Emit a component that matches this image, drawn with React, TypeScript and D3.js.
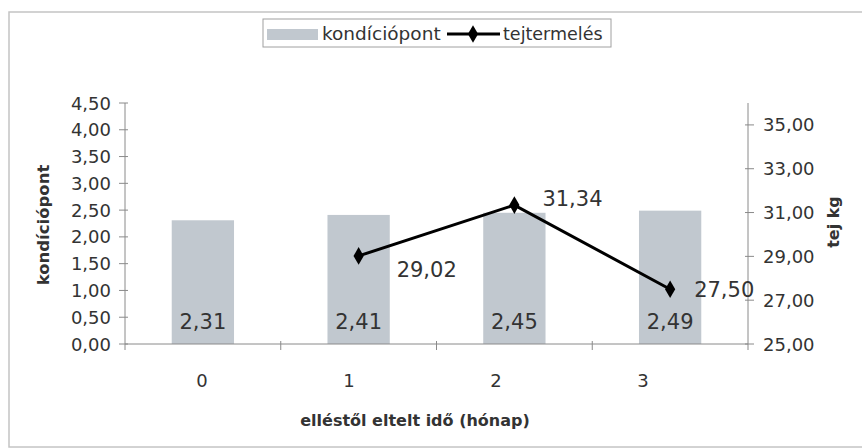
import * as d3 from "d3";

const categories = ["0", "1", "2", "3"];
const condition = [2.31, 2.41, 2.45, 2.49];
const milk: (number | null)[] = [null, 29.02, 31.34, 27.5];
const leftTicks = [0, 0.5, 1, 1.5, 2, 2.5, 3, 3.5, 4, 4.5];
const rightTicks = [25, 27, 29, 31, 33, 35];

// label nudges for the line values (as placed in the original)
const lineLabelDx = [0, 38, 28, 24];
const lineLabelDy = [0, 21, 1, 8];

const W = 862;
const H = 448;
const FONT = "'DejaVu Sans', sans-serif";
const BAR = "#c1c8cf";
const TXT = "#333";
const AXIS = "#8a8a8a";

const fmt = (v: number) => v.toFixed(2).replace(".", ",");

const App = () => {
  const x = d3.scaleBand().domain(categories).range([125, 748]).paddingInner(0.6).paddingOuter(0.3);
  const xb = d3.scaleBand().domain(categories).range([125, 748]);
  // category labels sit a bit left of the bars in the scan
  const xl = d3.scalePoint().domain(categories).range([202, 643]);
  const yL = d3.scaleLinear().domain([0, 4.5]).range([344, 103]);
  const yR = d3.scaleLinear().domain([25, 36]).range([344, 103]);
  const y0 = yL(0);

  const pts = categories
    .map((c, i) => ({ c, i, v: milk[i] }))
    .filter((d) => d.v !== null) as { c: string; i: number; v: number }[];
  const line = d3
    .line<{ c: string; v: number }>()
    .x((d) => xb(d.c)! + xb.bandwidth() / 2)
    .y((d) => yR(d.v));
  const diamond = d3.symbol(d3.symbolDiamond, 90)()!;

  return (
    <svg width={W} height={H} style={{ position: "absolute", left: 0, top: 0, background: "#fff" }} fontFamily={FONT}>
      <rect x={9} y={12} width={900} height={435} fill="none" stroke="#c4c4c4" strokeWidth={1.5} />

      {/* legend */}
      <g>
        <rect x={263} y={19} width={348} height={28} fill="#fff" stroke="#a0a0a0" />
        <rect x={267} y={29} width={51} height={11} fill={BAR} />
        <text x={322} y={40} fontSize={18.5} fill={TXT}>kondíciópont</text>
        <line x1={447} x2={500} y1={34} y2={34} stroke="#000" strokeWidth={3} />
        <path d={diamond} transform="translate(473,34)" fill="#000" />
        <text x={503} y={40} fontSize={17.5} fill={TXT}>tejtermelés</text>
      </g>

      {/* bars */}
      {categories.map((c, i) => (
        <rect key={c} x={x(c)} y={yL(condition[i])} width={x.bandwidth()} height={y0 - yL(condition[i])} fill={BAR} />
      ))}
      {categories.map((c, i) => (
        <text key={"bl" + c} x={x(c)! + x.bandwidth() / 2} y={y0 - 15} textAnchor="middle" fontSize={21} fill={TXT}>
          {fmt(condition[i])}
        </text>
      ))}

      {/* x axis */}
      <line x1={125} x2={748} y1={y0} y2={y0} stroke={AXIS} />
      {categories.slice(1).map((c) => (
        <line key={"xt" + c} x1={xb(c)} x2={xb(c)} y1={y0 - 3} y2={y0 + 6} stroke={AXIS} />
      ))}
      {categories.map((c) => (
        <text key={"xl" + c} x={xl(c)} y={387} textAnchor="middle" fontSize={18} fill={TXT}>
          {c}
        </text>
      ))}
      <text x={415} y={426} textAnchor="middle" fontSize={16} fontWeight="bold" fill={TXT}>
        elléstől eltelt idő (hónap)
      </text>

      {/* left axis */}
      <line x1={125} x2={125} y1={yL(4.5)} y2={y0 + 6} stroke={AXIS} />
      {leftTicks.map((t) => (
        <g key={"lt" + t}>
          <line x1={119} x2={128} y1={yL(t)} y2={yL(t)} stroke={AXIS} />
          <text x={111} y={yL(t) + 6.5} textAnchor="end" fontSize={18} fill={TXT}>
            {fmt(t)}
          </text>
        </g>
      ))}
      <text transform={`translate(49,225) rotate(-90)`} textAnchor="middle" fontSize={16.5} fontWeight="bold" fill={TXT}>
        kondíciópont
      </text>

      {/* right axis */}
      <line x1={748} x2={748} y1={yR(36)} y2={y0 + 6} stroke={AXIS} />
      {rightTicks.map((t) => (
        <g key={"rt" + t}>
          <line x1={745} x2={754} y1={yR(t)} y2={yR(t)} stroke={AXIS} />
          <text x={763} y={yR(t) + 6.5} fontSize={18} fill={TXT}>
            {fmt(t)}
          </text>
        </g>
      ))}
      <text transform={`translate(839,222) rotate(-90)`} textAnchor="middle" fontSize={16} fontWeight="bold" fill={TXT}>
        tej kg
      </text>

      {/* line series */}
      <path d={line(pts) ?? ""} fill="none" stroke="#000" strokeWidth={3} />
      {pts.map((d) => (
        <path key={"m" + d.c} d={diamond} transform={`translate(${xb(d.c)! + xb.bandwidth() / 2},${yR(d.v)})`} fill="#000" />
      ))}
      {pts.map((d) => (
        <text
          key={"ll" + d.c}
          x={xb(d.c)! + xb.bandwidth() / 2 + lineLabelDx[d.i]}
          y={yR(d.v) + lineLabelDy[d.i]}
          fontSize={21}
          fill={TXT}
        >
          {fmt(d.v)}
        </text>
      ))}
    </svg>
  );
};

export default App;
